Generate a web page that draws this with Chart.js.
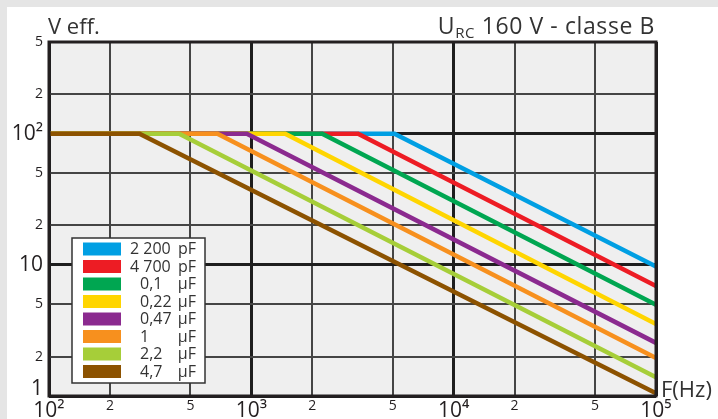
<!DOCTYPE html>
<html>
<head>
<meta charset="utf-8">
<script src="https://cdn.jsdelivr.net/npm/chart.js@4.4.1/dist/chart.umd.min.js"></script>
<style>
  html, body { margin: 0; padding: 0; background: #ffffff; }
  #wrap { width: 718px; height: 419px; position: relative; }
  canvas { display: block; }
</style>
</head>
<body>
<div id="wrap"><canvas id="c" width="718" height="419"></canvas></div>
<script>
// ---- data ----
const capValues = ["2 200", "4 700", "0,1", "0,22", "0,47", "1", "2,2", "4,7"];
const capUnits = ["pF", "pF", "μF", "μF", "μF", "μF", "μF", "μF"];
const seriesColors = ["#009fe3", "#ed1c24", "#00a651", "#ffd500", "#8b2a8f", "#f7901e", "#a6ce39", "#8c5200"];
const startFreq = 100;
const endFreq = 100000;
const flatVoltage = 100;
const cornerFreqs = [5100, 3370, 2240, 1470, 950, 680, 440, 280];
const endVoltages = [9.7, 6.9, 4.97, 3.54, 2.54, 1.95, 1.39, 1.05];
const xTickValues = [100, 200, 500, 1000, 2000, 5000, 10000, 20000, 50000, 100000];
const xTickLabels = ["10²", "2", "5", "10³", "2", "5", "10⁴", "2", "5", "10⁵"];
const yTickValues = [1, 2, 5, 10, 20, 50, 100, 200, 500];
const yTickLabels = ["1", "2", "5", "10", "2", "5", "10²", "2", "5"];
const yAxisTitle = "V eff.";
const xAxisTitle = "F(Hz)";
const rightTitleMain = "U";
const rightTitleSub = "RC";
const rightTitleRest = " 160 V - classe B";

// ---- styles ----
const FONT = "'Open Sans', 'Noto Sans', sans-serif";
const TEXT = "#231f20";
const isDecade = v => Math.abs(Math.log10(v) - Math.round(Math.log10(v))) < 1e-9;

const tickFont = (c) => {
  const v = c.tick ? c.tick.value : 2;
  if (isDecade(v)) {
    if (v === 1) return { family: FONT, size: 21, lineHeight: 0.62 };
    return { family: FONT, size: 21, lineHeight: 1.2 };
  }
  return { family: FONT, size: 14, lineHeight: 1.2 };
};
const gridColor = (c) => (c.tick && isDecade(c.tick.value)) ? "#1e1e1e" : "#454545";
const gridWidth = (c) => (c.tick && isDecade(c.tick.value)) ? 3 : 2;

const bgPlugin = {
  id: "bg",
  beforeDraw(chart) {
    const ctx = chart.ctx;
    const a = chart.chartArea;
    ctx.save();
    ctx.fillStyle = "#ffffff";
    ctx.fillRect(0, 0, chart.width, chart.height);
    ctx.fillStyle = "#e5e5e5";
    ctx.fillRect(0, 0, chart.width, 7);
    ctx.fillRect(0, 0, 7, chart.height);
    ctx.fillStyle = "#efefef";
    ctx.fillRect(a.left, a.top, a.right - a.left, a.bottom - a.top);
    ctx.restore();
  }
};

const framePlugin = {
  id: "frame",
  afterDatasetsDraw(chart) {
    const ctx = chart.ctx;
    const a = chart.chartArea;
    ctx.save();
    ctx.strokeStyle = TEXT;
    ctx.lineWidth = 3;
    ctx.strokeRect(a.left, a.top, a.right - a.left, a.bottom - a.top);
    ctx.restore();
  }
};

const legendPlugin = {
  id: "capLegend",
  afterDraw(chart) {
    const ctx = chart.ctx;
    const boxL = 72, boxT = 238, boxW = 133, boxH = 145;
    const rowY0 = 249, rowStep = 17.5;
    ctx.save();
    ctx.fillStyle = "#ffffff";
    ctx.fillRect(boxL, boxT, boxW, boxH);
    ctx.strokeStyle = "#333333";
    ctx.lineWidth = 1.5;
    ctx.strokeRect(boxL, boxT, boxW, boxH);
    ctx.font = "16px " + FONT;
    ctx.textBaseline = "middle";
    chart.data.datasets.forEach((ds, i) => {
      const y = rowY0 + i * rowStep;
      ctx.fillStyle = ds.borderColor;
      ctx.fillRect(83, y - 6.5, 38, 13);
      ctx.fillStyle = "#333333";
      ctx.textAlign = "left";
      ctx.fillText(capValues[i], capUnits[i] === "pF" ? 130 : 140, y + 0.5);
      ctx.textAlign = "right";
      ctx.fillText(capUnits[i], 196, y + 0.5);
    });
    ctx.restore();
  }
};

const textPlugin = {
  id: "titles",
  afterDraw(chart) {
    const ctx = chart.ctx;
    const a = chart.chartArea;
    ctx.save();
    ctx.fillStyle = "#333333";
    ctx.textBaseline = "alphabetic";
    ctx.textAlign = "left";
    ctx.font = "22px " + FONT;
    ctx.fillText(yAxisTitle, a.left - 1, 34);
    // right title with subscript
    const bigF = "23px " + FONT, subF = "15px " + FONT;
    ctx.letterSpacing = "0.6px";
    ctx.font = bigF;
    const wMain = ctx.measureText(rightTitleMain).width;
    const wRest = ctx.measureText(rightTitleRest).width;
    ctx.font = subF;
    const wSub = ctx.measureText(rightTitleSub).width;
    let x = a.right - 1 - (wMain + wSub + wRest);
    ctx.font = bigF;
    ctx.fillText(rightTitleMain, x, 34); x += wMain;
    ctx.font = subF;
    ctx.fillText(rightTitleSub, x, 38); x += wSub;
    ctx.font = bigF;
    ctx.fillText(rightTitleRest, x, 34);
    ctx.letterSpacing = "0px";
    // x axis title
    ctx.font = "22px " + FONT;
    ctx.fillText(xAxisTitle, a.right + 5, a.bottom + 1);
    ctx.restore();
  }
};

new Chart(document.getElementById("c"), {
  type: "line",
  data: {
    datasets: capValues.map((v, i) => ({
      label: v + " " + capUnits[i],
      data: [
        { x: startFreq, y: flatVoltage },
        { x: cornerFreqs[i], y: flatVoltage },
        { x: endFreq, y: endVoltages[i] }
      ],
      borderColor: seriesColors[i],
      backgroundColor: seriesColors[i],
      borderWidth: 4.5,
      pointRadius: 0,
      tension: 0,
      fill: false,
      order: capValues.length - 1 - i
    }))
  },
  options: {
    responsive: false,
    animation: false,
    events: [],
    layout: { padding: { left: 0, right: 62, top: 42, bottom: 0 } },
    plugins: { legend: { display: false }, tooltip: { enabled: false }, title: { display: false } },
    scales: {
      x: {
        type: "logarithmic",
        min: startFreq,
        max: endFreq,
        afterBuildTicks: s => { s.ticks = xTickValues.map(v => ({ value: v, major: false })); },
        afterFit: s => { s.height = 23; },
        ticks: {
          autoSkip: false, maxRotation: 0, minRotation: 0, padding: 2, color: TEXT,
          callback: (v, i) => xTickLabels[i],
          font: tickFont
        },
        grid: { drawTicks: false, color: gridColor, lineWidth: gridWidth },
        border: { display: false }
      },
      y: {
        type: "logarithmic",
        min: yTickValues[0],
        max: yTickValues[yTickValues.length - 1],
        afterBuildTicks: s => { s.ticks = yTickValues.map(v => ({ value: v, major: false })); },
        afterFit: s => { s.width = 49; },
        ticks: {
          autoSkip: false, padding: 6, color: TEXT,
          callback: (v, i) => (yTickValues[i] === 1 ? [yTickLabels[i], ""] : yTickLabels[i]),
          font: tickFont
        },
        grid: { drawTicks: false, color: gridColor, lineWidth: gridWidth },
        border: { display: false }
      }
    }
  },
  plugins: [bgPlugin, framePlugin, legendPlugin, textPlugin]
});
</script>
</body>
</html>
